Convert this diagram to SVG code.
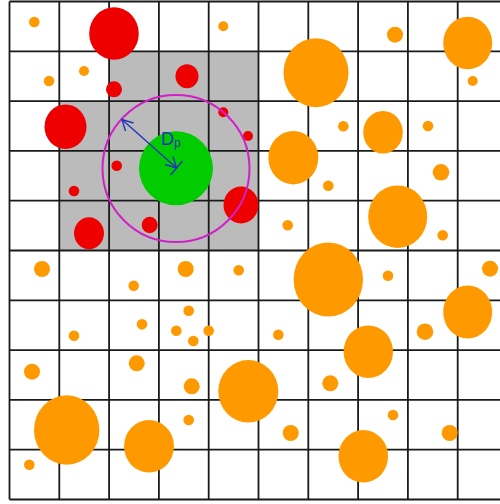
<svg xmlns="http://www.w3.org/2000/svg" width="500" height="504" viewBox="0 0 500 504">
<style>
.o{fill:#FF9900}
.r{fill:#EE0000}
.g{fill:#00CC00}
.grid line{stroke:#1a1a1a;stroke-width:1.8}
.ar{stroke:#2233BB;stroke-width:1.4;fill:none}
</style>
<rect width="500" height="504" fill="#ffffff"/>
<g id="shaded">
<path d="M109.1,51.3 H258.5 V250.5 H59.3 V101.1 H109.1 Z" fill="#BBBBBB"/>
</g>
<g id="grid" class="grid">
<line x1="9.5" y1="1.5" x2="9.5" y2="499.5"/>
<line x1="59.3" y1="1.5" x2="59.3" y2="499.5"/>
<line x1="109.1" y1="1.5" x2="109.1" y2="499.5"/>
<line x1="158.9" y1="1.5" x2="158.9" y2="499.5"/>
<line x1="208.7" y1="1.5" x2="208.7" y2="499.5"/>
<line x1="258.5" y1="1.5" x2="258.5" y2="499.5"/>
<line x1="308.3" y1="1.5" x2="308.3" y2="499.5"/>
<line x1="358.1" y1="1.5" x2="358.1" y2="499.5"/>
<line x1="407.9" y1="1.5" x2="407.9" y2="499.5"/>
<line x1="457.7" y1="1.5" x2="457.7" y2="499.5"/>
<line x1="9.5" y1="1.5" x2="500" y2="1.5"/>
<line x1="9.5" y1="51.3" x2="500" y2="51.3"/>
<line x1="9.5" y1="101.1" x2="500" y2="101.1"/>
<line x1="9.5" y1="150.9" x2="500" y2="150.9"/>
<line x1="9.5" y1="200.7" x2="500" y2="200.7"/>
<line x1="9.5" y1="250.5" x2="500" y2="250.5"/>
<line x1="9.5" y1="300.3" x2="500" y2="300.3"/>
<line x1="9.5" y1="350.1" x2="500" y2="350.1"/>
<line x1="9.5" y1="399.9" x2="500" y2="399.9"/>
<line x1="9.5" y1="449.7" x2="500" y2="449.7"/>
<line x1="9.5" y1="499.5" x2="500" y2="499.5"/>
</g>
<g id="red-particles">
<ellipse class="r" cx="114" cy="33.5" rx="24.8" ry="26.3"/>
<circle class="r" cx="114" cy="89.3" r="8"/>
<ellipse class="r" cx="187" cy="76.3" rx="11.5" ry="12"/>
<ellipse class="r" cx="65.5" cy="126.7" rx="21" ry="22.3"/>
<circle class="r" cx="223.3" cy="112.3" r="5"/>
<circle class="r" cx="248" cy="136" r="5"/>
<circle class="r" cx="116.7" cy="165.7" r="5.3"/>
<circle class="r" cx="74" cy="191" r="5.3"/>
<ellipse class="r" cx="241" cy="205" rx="17.5" ry="18.5"/>
<ellipse class="r" cx="149.7" cy="225" rx="8" ry="8.3"/>
<ellipse class="r" cx="89" cy="233.3" rx="15" ry="16"/>
</g>
<g id="orange-particles">
<circle class="o" cx="34.3" cy="22" r="5.3"/>
<circle class="o" cx="223.3" cy="26.3" r="5"/>
<circle class="o" cx="49" cy="81" r="5.3"/>
<circle class="o" cx="84" cy="71" r="5"/>
<circle class="o" cx="395" cy="34.7" r="8"/>
<ellipse class="o" cx="467.7" cy="43" rx="24.5" ry="26.3"/>
<circle class="o" cx="472.7" cy="81" r="5"/>
<ellipse class="o" cx="316" cy="72.7" rx="32.5" ry="34.5"/>
<circle class="o" cx="343.3" cy="126.3" r="5.3"/>
<ellipse class="o" cx="383" cy="132.3" rx="19.8" ry="21.3"/>
<circle class="o" cx="428" cy="126" r="5.3"/>
<ellipse class="o" cx="293.3" cy="157.7" rx="25" ry="26.7"/>
<circle class="o" cx="328.3" cy="185.7" r="5.3"/>
<circle class="o" cx="441" cy="172.3" r="8.3"/>
<circle class="o" cx="287.7" cy="225.3" r="5.3"/>
<ellipse class="o" cx="397.7" cy="216.7" rx="29.5" ry="31.3"/>
<circle class="o" cx="442.7" cy="235.3" r="5.3"/>
<circle class="o" cx="42" cy="269" r="8"/>
<circle class="o" cx="133.7" cy="285.7" r="5.3"/>
<circle class="o" cx="185.7" cy="269" r="8"/>
<circle class="o" cx="238.7" cy="270.3" r="5.3"/>
<circle class="o" cx="188.7" cy="310.7" r="5.3"/>
<circle class="o" cx="142" cy="324.3" r="5.3"/>
<circle class="o" cx="74" cy="335.7" r="5.3"/>
<circle class="o" cx="176.3" cy="330.7" r="5.3"/>
<circle class="o" cx="193.3" cy="341" r="5.3"/>
<circle class="o" cx="208.7" cy="330.7" r="5.3"/>
<circle class="o" cx="32" cy="371.7" r="8"/>
<circle class="o" cx="136.7" cy="363.3" r="8"/>
<circle class="o" cx="191.7" cy="386.3" r="8"/>
<circle class="o" cx="188.7" cy="420" r="5.3"/>
<ellipse class="o" cx="66.7" cy="430" rx="32.7" ry="34.7"/>
<ellipse class="o" cx="149" cy="446.3" rx="25" ry="26.3"/>
<circle class="o" cx="29.3" cy="464.7" r="5.3"/>
<ellipse class="o" cx="328.3" cy="279.5" rx="34.7" ry="37"/>
<circle class="o" cx="388" cy="275.7" r="5.3"/>
<circle class="o" cx="490" cy="268.7" r="8"/>
<ellipse class="o" cx="467.7" cy="312" rx="24.5" ry="26.5"/>
<circle class="o" cx="278.3" cy="334.7" r="5.3"/>
<circle class="o" cx="425" cy="331.7" r="8.3"/>
<ellipse class="o" cx="368.3" cy="351.7" rx="24.7" ry="26.3"/>
<ellipse class="o" cx="248.3" cy="391.3" rx="30" ry="31.3"/>
<circle class="o" cx="330.3" cy="383.3" r="8"/>
<circle class="o" cx="393" cy="415" r="5.3"/>
<circle class="o" cx="290.7" cy="433" r="8"/>
<circle class="o" cx="449.7" cy="433" r="8"/>
<ellipse class="o" cx="363.3" cy="456.3" rx="24.8" ry="26.3"/>
</g>
<g id="target">
<circle class="g" cx="176" cy="168.3" r="37"/>
<circle cx="176" cy="168.5" r="73.5" fill="none" stroke="#D020C8" stroke-width="2"/>
</g>
<g id="diameter">
<line class="ar" x1="122" y1="119.5" x2="176.5" y2="168"/>
<polyline class="ar" points="133.5,123 122,119.5 125.5,131"/>
<polyline class="ar" points="165,164.5 176.5,168 173,156.5"/>
<line class="ar" x1="170.5" y1="175" x2="182.5" y2="161"/>
<text x="161" y="145" font-family="Liberation Sans, Arial, sans-serif" font-size="18" fill="#2233BB">D<tspan font-size="12" dy="2">p</tspan></text>
</g>
</svg>
